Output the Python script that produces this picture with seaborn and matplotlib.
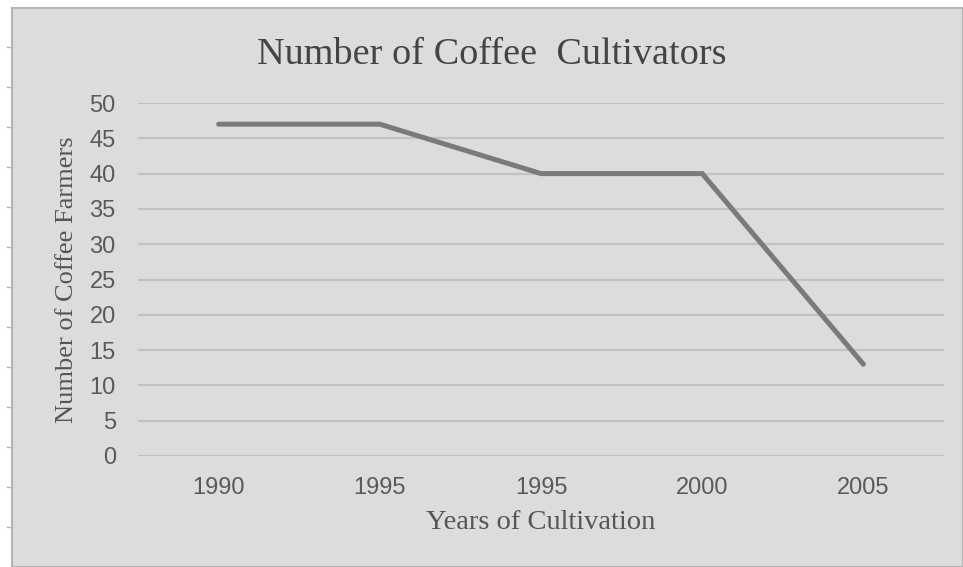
import numpy as np
import matplotlib
matplotlib.use("Agg")
import matplotlib.pyplot as plt
from matplotlib.patches import Rectangle
from matplotlib.lines import Line2D
import seaborn as sns

# chart data
years = ['1990', '1995', '1995', '2000', '2005']
farmers = [47, 47, 40, 40, 13]
y_ticks = list(range(0, 55, 5))

sns.set_theme(style='white')
plt.rcParams['font.family'] = ['Liberation Sans', 'DejaVu Sans']

W, H = 963, 567
fig = plt.figure(figsize=(W / 100, H / 100), dpi=100)
fig.patch.set_facecolor('white')

# grey chart area with border, white strip on the left/top
fig.patches.append(Rectangle((12 / W, 0), 1 - 12 / W, 1 - 8 / H, transform=fig.transFigure,
                             facecolor='#dcdcdc', edgecolor='#b4b4b4', linewidth=1.5, zorder=-10))
for yy in range(47, 567, 40):
    fig.lines.append(Line2D([7 / W, 12 / W], [1 - yy / H, 1 - yy / H], transform=fig.transFigure,
                            color='#b4b4b4', linewidth=1))

ax = fig.add_axes([138 / W, 1 - 456 / H, (944 - 138) / W, (456 - 103) / H])
ax.set_facecolor('none')

pos = np.arange(len(years))
sns.lineplot(x=pos, y=farmers, ax=ax, color='#7a7a7a', linewidth=3.6, sort=False,
             solid_capstyle='round', solid_joinstyle='miter')

ax.set_xlim(-0.5, len(years) - 0.5)
ax.set_ylim(0, 50)
ax.set_xticks(pos)
ax.set_xticklabels(years)
ax.set_yticks(y_ticks)
ax.tick_params(axis='both', length=0, labelsize=17, labelcolor='#5a5a5a')
ax.tick_params(axis='y', pad=16)
ax.tick_params(axis='x', pad=15)

ax.yaxis.grid(True, color='#c2c2c2', linewidth=1.6)
ax.set_axisbelow(True)
for s in ax.spines.values():
    s.set_visible(False)

serif = ['Liberation Serif', 'DejaVu Serif']
ax.set_xlabel('Years of Cultivation', family=serif, fontsize=20.5, color='#555555', labelpad=8)
ax.set_ylabel('Number of Coffee Farmers', family=serif, fontsize=19, color='#555555', labelpad=8)
fig.text(492 / W, 1 - 55 / H, 'Number of Coffee  Cultivators', family=serif, fontsize=27.5,
         color='#444444', ha='center', va='center')

fig.savefig('out.png', dpi=100, facecolor=fig.get_facecolor())
